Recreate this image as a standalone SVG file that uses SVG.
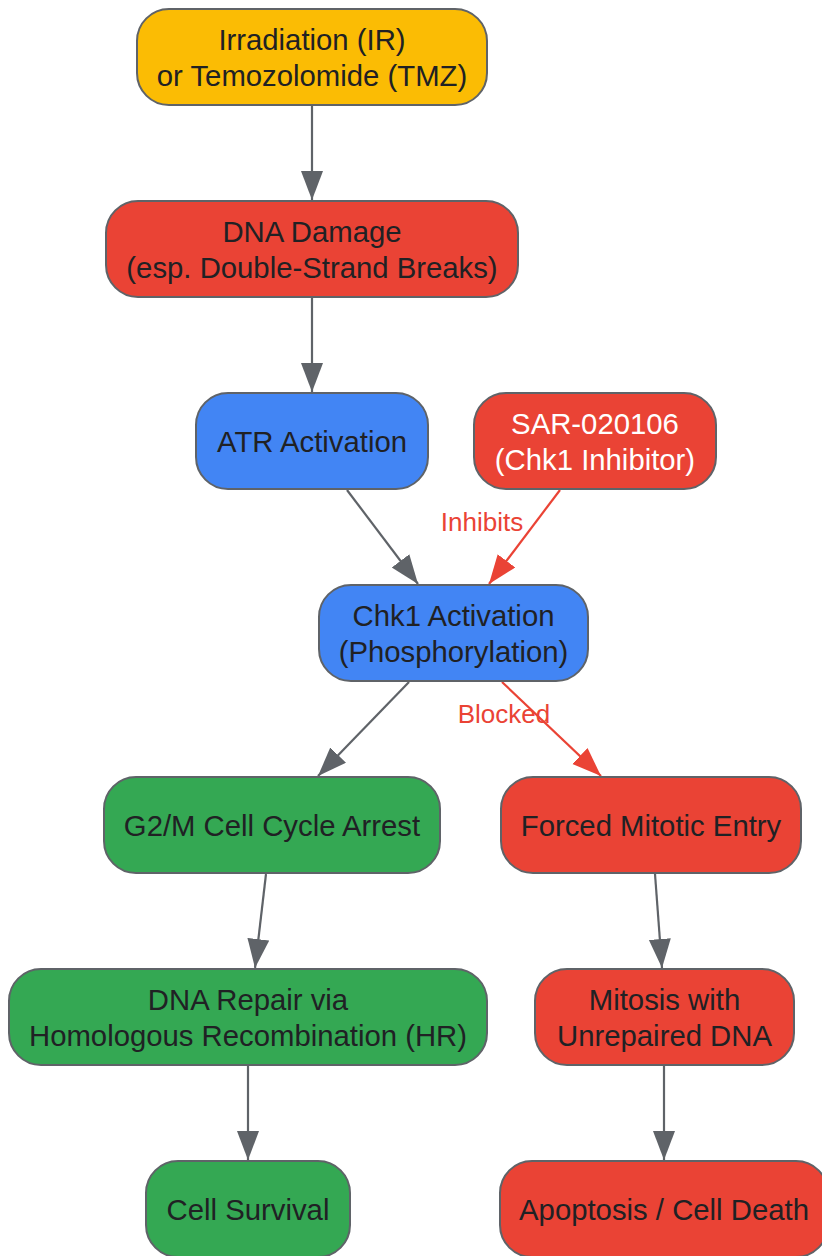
<svg xmlns="http://www.w3.org/2000/svg" width="822" height="1256" viewBox="0 0 822 1256">
<style>
.n{stroke:#5f6368;stroke-width:2}
.y{fill:#FBBC04}.r{fill:#EA4335}.b{fill:#4285F4}.g{fill:#34A853}
.t{font-family:"Liberation Sans",Arial,sans-serif;font-size:29.3px;fill:#202124;text-anchor:middle}
.w{fill:#ffffff}
.e{stroke:#5f6368;stroke-width:2.2;fill:none;marker-end:url(#ag)}
.er{stroke:#EA4335;stroke-width:2.2;fill:none;marker-end:url(#ar)}
.l{font-family:"Liberation Sans",Arial,sans-serif;font-size:26px;fill:#EA4335;text-anchor:middle}
</style>
<defs>
<marker id="ag" markerUnits="userSpaceOnUse" markerWidth="30" markerHeight="24" refX="29" refY="11" orient="auto"><path d="M0,0 L29,11 L0,22 z" fill="#5f6368"/></marker>
<marker id="ar" markerUnits="userSpaceOnUse" markerWidth="30" markerHeight="24" refX="29" refY="11" orient="auto"><path d="M0,0 L29,11 L0,22 z" fill="#EA4335"/></marker>
</defs>
<rect width="822" height="1256" fill="#ffffff"/>
<g id="edges">
<path class="e" d="M312,105 L312,200"/>
<path class="e" d="M312,297 L312,392"/>
<path class="e" d="M347,490 L418,584"/>
<path class="er" d="M560,490 L489,584"/>
<path class="e" d="M409,682 L318,776"/>
<path class="er" d="M502,682 L601,776"/>
<path class="e" d="M266,874 L255,968"/>
<path class="e" d="M655,874 L662,968"/>
<path class="e" d="M248,1066 L248,1160"/>
<path class="e" d="M664,1066 L664,1160"/>
<text class="l" x="482" y="531">Inhibits</text>
<text class="l" x="504" y="723">Blocked</text>
</g>
<g id="n1"><rect class="n y" x="137" y="9" width="350" height="96" rx="32"/><text class="t" x="312" y="50">Irradiation (IR)</text><text class="t" x="312" y="86">or Temozolomide (TMZ)</text></g>
<g id="n2"><rect class="n r" x="106" y="201" width="412" height="96" rx="32"/><text class="t" x="312" y="242">DNA Damage</text><text class="t" x="312" y="278">(esp. Double-Strand Breaks)</text></g>
<g id="n3"><rect class="n b" x="196" y="393" width="232" height="96" rx="32"/><text class="t" x="312" y="452">ATR Activation</text></g>
<g id="n4"><rect class="n r" x="474" y="393" width="242" height="96" rx="32"/><text class="t w" x="595" y="434">SAR-020106</text><text class="t w" x="595" y="470">(Chk1 Inhibitor)</text></g>
<g id="n5"><rect class="n b" x="319" y="585" width="269" height="96" rx="32"/><text class="t" x="453.5" y="626">Chk1 Activation</text><text class="t" x="453.5" y="662">(Phosphorylation)</text></g>
<g id="n6"><rect class="n g" x="104" y="777" width="336" height="96" rx="32"/><text class="t" x="272" y="836">G2/M Cell Cycle Arrest</text></g>
<g id="n7"><rect class="n r" x="501" y="777" width="300" height="96" rx="32"/><text class="t" x="651" y="836">Forced Mitotic Entry</text></g>
<g id="n8"><rect class="n g" x="9" y="969" width="478" height="96" rx="32"/><text class="t" x="248" y="1010">DNA Repair via</text><text class="t" x="248" y="1046">Homologous Recombination (HR)</text></g>
<g id="n9"><rect class="n r" x="535" y="969" width="259" height="96" rx="32"/><text class="t" x="664.5" y="1010">Mitosis with</text><text class="t" x="664.5" y="1046">Unrepaired DNA</text></g>
<g id="n10"><rect class="n g" x="146" y="1161" width="204" height="96" rx="32"/><text class="t" x="248" y="1220">Cell Survival</text></g>
<g id="n11"><rect class="n r" x="500" y="1161" width="328" height="96" rx="32"/><text class="t" x="664" y="1220">Apoptosis / Cell Death</text></g>
</svg>
